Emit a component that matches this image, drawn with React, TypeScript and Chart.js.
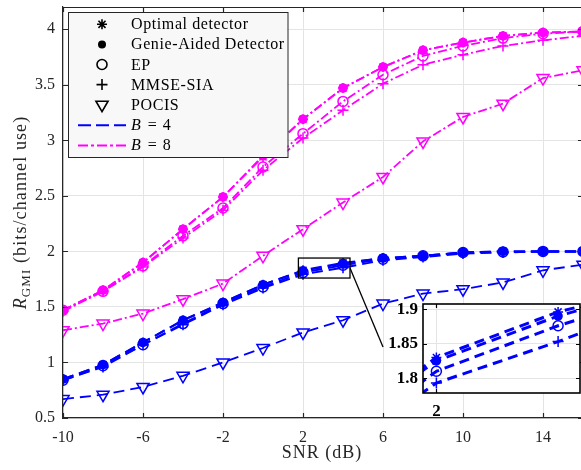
import React, { useEffect, useRef } from "react";
import { Chart, registerables } from "chart.js";

Chart.register(...registerables);

// ---------- data ----------
const snr = [-10, -8, -6, -4, -2, 0, 2, 4, 6, 8, 10, 12, 14, 16];

const optimalB4 = [0.85, 0.98, 1.18, 1.38, 1.54, 1.70, 1.83, 1.896, 1.94, 1.96, 1.99, 2.0, 2.0, 2.0];
const genieB4 = [0.85, 0.98, 1.18, 1.38, 1.54, 1.70, 1.825, 1.89, 1.94, 1.96, 1.99, 2.0, 2.0, 2.0];
const epB4 = [0.84, 0.97, 1.16, 1.35, 1.53, 1.68, 1.81, 1.876, 1.93, 1.96, 1.99, 1.995, 2.0, 2.0];
const mmseB4 = [0.84, 0.96, 1.16, 1.34, 1.52, 1.67, 1.793, 1.853, 1.92, 1.95, 1.98, 1.99, 2.0, 2.0];
const pocisB4 = [0.67, 0.71, 0.78, 0.88, 1.0, 1.13, 1.27, 1.38, 1.53, 1.62, 1.66, 1.72, 1.83, 1.88];

const optimalB8 = [1.47, 1.65, 1.9, 2.2, 2.49, 2.85, 3.19, 3.47, 3.66, 3.81, 3.88, 3.94, 3.97, 3.98];
const genieB8 = [1.47, 1.65, 1.9, 2.2, 2.49, 2.86, 3.19, 3.47, 3.66, 3.81, 3.88, 3.94, 3.97, 3.98];
const epB8 = [1.47, 1.64, 1.87, 2.14, 2.39, 2.76, 3.06, 3.35, 3.59, 3.76, 3.85, 3.92, 3.96, 3.98];
const mmseB8 = [1.46, 1.64, 1.86, 2.12, 2.37, 2.73, 3.02, 3.27, 3.51, 3.68, 3.77, 3.85, 3.9, 3.94];
const pocisB8 = [1.29, 1.35, 1.44, 1.57, 1.71, 1.96, 2.2, 2.44, 2.67, 2.99, 3.21, 3.33, 3.56, 3.63];

const xTicks = [-10, -6, -2, 2, 6, 10, 14];
const yTicks = [0.5, 1, 1.5, 2, 2.5, 3, 3.5, 4];
const xRange = [-10, 16];
const yRange = [0.5, 4.2];

const insetXTicks = [2];
const insetYTicks = [1.8, 1.85, 1.9];
const insetXRange = [1.78, 4.36];
const insetYRange = [1.7785, 1.9075];

const zoomBoxX = [1.77, 4.35];
const zoomBoxY = [1.76, 1.94];
const connectorX = [4.35, 6.0];
const connectorY = [1.85, 1.14];

const legendLabels = ["Optimal detector", "Genie-Aided Detector", "EP", "MMSE-SIA", "POCIS"];

// ---------- styles ----------
const BLUE = "#0000ff";
const MAGENTA = "#ff00ff";
const AXIS = "#262626";
const GRID = "#e4e4e4";
const SERIF = '"Liberation Serif", "Times New Roman", serif';

type Marker = { style: string; fill: boolean; r: number; rot: number };
const markers: Marker[] = [
  { style: "star", fill: false, r: 5, rot: 0 },
  { style: "circle", fill: true, r: 4, rot: 0 },
  { style: "circle", fill: false, r: 5, rot: 0 },
  { style: "cross", fill: false, r: 5.5, rot: 0 },
  { style: "triangle", fill: false, r: 7, rot: 180 },
];

const dashB4 = [11, 6];
const dashB8 = [9, 3, 2, 3];

function makeDs(values: number[], color: string, dash: number[], lw: number, m: Marker, order: number, clip?: number) {
  const ds: any = {
    data: snr.map((x, i) => ({ x, y: values[i] })),
    borderColor: color,
    backgroundColor: m.fill ? color : "rgba(0,0,0,0)",
    borderWidth: lw,
    borderDash: dash,
    pointStyle: m.style,
    pointRotation: m.rot,
    pointRadius: m.r,
    pointHoverRadius: m.r,
    pointBorderWidth: 1.5,
    pointBorderColor: color,
    pointBackgroundColor: m.fill ? color : "rgba(0,0,0,0)",
    tension: 0,
    fill: false,
    order,
  };
  if (clip !== undefined) ds.clip = clip;
  return ds;
}

function drawMarker(ctx: CanvasRenderingContext2D, m: Marker, x: number, y: number, color: string) {
  ctx.save();
  ctx.strokeStyle = color;
  ctx.fillStyle = color;
  ctx.lineWidth = 1.6;
  ctx.setLineDash([]);
  ctx.beginPath();
  const r = m.r;
  if (m.style === "star") {
    for (let k = 0; k < 4; k++) {
      const a = (k * Math.PI) / 4;
      ctx.moveTo(x + Math.cos(a) * r, y + Math.sin(a) * r);
      ctx.lineTo(x - Math.cos(a) * r, y - Math.sin(a) * r);
    }
    ctx.stroke();
  } else if (m.style === "circle") {
    ctx.arc(x, y, r, 0, Math.PI * 2);
    if (m.fill) ctx.fill();
    else ctx.stroke();
  } else if (m.style === "cross") {
    ctx.moveTo(x - r, y);
    ctx.lineTo(x + r, y);
    ctx.moveTo(x, y - r);
    ctx.lineTo(x, y + r);
    ctx.stroke();
  } else if (m.style === "triangle") {
    const s = Math.sin(Math.PI / 3) * r;
    ctx.moveTo(x, y + r);
    ctx.lineTo(x - s, y - r / 2);
    ctx.lineTo(x + s, y - r / 2);
    ctx.closePath();
    ctx.stroke();
  }
  ctx.restore();
}

function drawInwardTicks(chart: any, len: number, color: string, lw: number) {
  const { ctx, chartArea, scales } = chart;
  const { left, right, top, bottom } = chartArea;
  ctx.save();
  ctx.strokeStyle = color;
  ctx.lineWidth = lw;
  ctx.setLineDash([]);
  ctx.beginPath();
  scales.x.ticks.forEach((t: any) => {
    const px = Math.round(scales.x.getPixelForValue(t.value)) + 0.5;
    ctx.moveTo(px, bottom);
    ctx.lineTo(px, bottom - len);
    ctx.moveTo(px, top);
    ctx.lineTo(px, top + len);
  });
  scales.y.ticks.forEach((t: any) => {
    const py = Math.round(scales.y.getPixelForValue(t.value)) + 0.5;
    ctx.moveTo(left, py);
    ctx.lineTo(left + len, py);
    ctx.moveTo(right, py);
    ctx.lineTo(right - len, py);
  });
  ctx.stroke();
  ctx.restore();
}

function drawRich(ctx: CanvasRenderingContext2D, parts: { t: string; font: string; dy: number }[], cx: number, y: number, spacing: string) {
  (ctx as any).letterSpacing = spacing;
  let total = 0;
  const widths = parts.map((p) => {
    ctx.font = p.font;
    const w = ctx.measureText(p.t).width;
    total += w;
    return w;
  });
  let x = cx - total / 2;
  parts.forEach((p, i) => {
    ctx.font = p.font;
    ctx.fillText(p.t, x, y + p.dy);
    x += widths[i];
  });
  (ctx as any).letterSpacing = "0px";
}

function zeroPad(s: any) {
  s.paddingTop = 0;
  s.paddingBottom = 0;
  s.paddingLeft = 0;
  s.paddingRight = 0;
}

const mainDecor = {
  id: "mainDecor",
  afterDraw(chart: any) {
    const { ctx, chartArea, scales } = chart;
    const { left, right, top, bottom } = chartArea;
    const xs = scales.x;
    const ys = scales.y;
    ctx.save();
    // top and right axis lines
    ctx.strokeStyle = AXIS;
    ctx.lineWidth = 1.2;
    ctx.setLineDash([]);
    ctx.beginPath();
    ctx.moveTo(left, top + 0.5);
    ctx.lineTo(right, top + 0.5);
    ctx.moveTo(right - 0.5, top);
    ctx.lineTo(right - 0.5, bottom);
    ctx.stroke();
    drawInwardTicks(chart, 5, AXIS, 1.2);

    // zoom box & connector
    ctx.strokeStyle = "#000";
    ctx.lineWidth = 1.3;
    const bx1 = xs.getPixelForValue(zoomBoxX[0]);
    const bx2 = xs.getPixelForValue(zoomBoxX[1]);
    const by1 = ys.getPixelForValue(zoomBoxY[1]);
    const by2 = ys.getPixelForValue(zoomBoxY[0]);
    ctx.strokeRect(bx1, by1, bx2 - bx1, by2 - by1);
    ctx.beginPath();
    ctx.moveTo(xs.getPixelForValue(connectorX[0]), ys.getPixelForValue(connectorY[0]));
    ctx.lineTo(xs.getPixelForValue(connectorX[1]), ys.getPixelForValue(connectorY[1]));
    ctx.stroke();

    // legend
    const lx = left + 5;
    const ly = top + 5;
    const lw = 219.5;
    const lh = 145;
    ctx.fillStyle = "#f8f8f8";
    ctx.fillRect(lx, ly, lw, lh);
    ctx.strokeStyle = AXIS;
    ctx.lineWidth = 1;
    ctx.strokeRect(lx + 0.5, ly + 0.5, lw, lh);
    const rowY = (i: number) => ly + 12.3 + i * 20.1;
    ctx.textBaseline = "alphabetic";
    ctx.textAlign = "left";
    legendLabels.forEach((lab, i) => {
      drawMarker(ctx, markers[i], lx + 34, rowY(i), "#000");
      ctx.fillStyle = "#000";
      ctx.font = `16px ${SERIF}`;
      (ctx as any).letterSpacing = "0.6px";
      ctx.fillText(lab, lx + 63, rowY(i) + 5);
    });
    // line samples
    const lineRows = [
      { color: BLUE, dash: [13, 5], lab: "4" },
      { color: MAGENTA, dash: [10, 3, 3, 3], lab: "8" },
    ];
    lineRows.forEach((lr, k) => {
      const yy = rowY(5 + k) + 0.5;
      ctx.save();
      ctx.strokeStyle = lr.color;
      ctx.lineWidth = 2;
      ctx.setLineDash(lr.dash);
      ctx.beginPath();
      ctx.moveTo(lx + 10, yy);
      ctx.lineTo(lx + 58, yy);
      ctx.stroke();
      ctx.restore();
      ctx.fillStyle = "#000";
      ctx.textAlign = "left";
      (ctx as any).letterSpacing = "0px";
      ctx.font = `italic 16px ${SERIF}`;
      ctx.fillText("B", lx + 63, rowY(5 + k) + 5);
      const wB = ctx.measureText("B").width;
      ctx.font = `16px ${SERIF}`;
      (ctx as any).letterSpacing = "1px";
      ctx.fillText(" = " + lr.lab, lx + 63 + wB + 2, rowY(5 + k) + 5);
    });
    (ctx as any).letterSpacing = "0px";

    // axis titles
    ctx.fillStyle = "#262626";
    ctx.textAlign = "left";
    drawRich(ctx, [{ t: "SNR (dB)", font: `18px ${SERIF}`, dy: 0 }], (left + right) / 2 - 1, 458, "1px");
    ctx.save();
    ctx.translate(26, (top + bottom) / 2);
    ctx.rotate(-Math.PI / 2);
    drawRich(
      ctx,
      [
        { t: "R", font: `italic 18px ${SERIF}`, dy: 0 },
        { t: "GMI", font: `13px ${SERIF}`, dy: 4 },
        { t: " (bits/channel use)", font: `18px ${SERIF}`, dy: 0 },
      ],
      0,
      0,
      "1.1px"
    );
    ctx.restore();
    ctx.restore();
  },
};

const insetDecor = {
  id: "insetDecor",
  beforeDraw(chart: any) {
    const { ctx, chartArea } = chart;
    ctx.save();
    ctx.fillStyle = "#fff";
    ctx.fillRect(chartArea.left, chartArea.top, chartArea.right - chartArea.left, chartArea.bottom - chartArea.top);
    ctx.restore();
  },
  afterDraw(chart: any) {
    const { ctx, chartArea } = chart;
    drawInwardTicks(chart, 4, "#000", 1.2);
    ctx.save();
    ctx.strokeStyle = "#000";
    ctx.lineWidth = 1.6;
    ctx.setLineDash([]);
    ctx.strokeRect(chartArea.left, chartArea.top, chartArea.right - chartArea.left, chartArea.bottom - chartArea.top);
    ctx.restore();
  },
};

function buildDatasets(inset: boolean) {
  const lw4 = inset ? 3 : 2;
  const lw8 = 1.8;
  const d4 = inset ? [10, 6] : dashB4;
  const clip = inset ? 0 : undefined;
  const list: any[] = [
    makeDs(genieB4, BLUE, d4, lw4, markers[1], 1, clip),
    makeDs(optimalB4, BLUE, d4, lw4, markers[0], 2, clip),
    makeDs(epB4, BLUE, d4, lw4, markers[2], 3, clip),
    makeDs(mmseB4, BLUE, d4, lw4, markers[3], 4, clip),
  ];
  if (!inset) {
    list.push(makeDs(pocisB4, BLUE, dashB4, 1.8, markers[4], 5));
    list.push(makeDs(genieB8, MAGENTA, dashB8, lw8, markers[1], 6));
    list.push(makeDs(optimalB8, MAGENTA, dashB8, lw8, markers[0], 7));
    list.push(makeDs(epB8, MAGENTA, dashB8, lw8, markers[2], 8));
    list.push(makeDs(mmseB8, MAGENTA, dashB8, lw8, markers[3], 9));
    list.push(makeDs(pocisB8, MAGENTA, dashB8, lw8, markers[4], 10));
  }
  return list;
}

export default function App() {
  const mainRef = useRef<HTMLCanvasElement>(null);
  const insetRef = useRef<HTMLCanvasElement>(null);

  useEffect(() => {
    const main = new Chart(mainRef.current as HTMLCanvasElement, {
      type: "line",
      data: { datasets: buildDatasets(false) },
      options: {
        animation: false,
        responsive: false,
        maintainAspectRatio: false,
        devicePixelRatio: 1,
        layout: { autoPadding: false, padding: { top: 7, right: 7, left: 0, bottom: 0 } },
        plugins: { legend: { display: false }, tooltip: { enabled: false } },
        events: [],
        scales: {
          x: {
            type: "linear",
            min: xRange[0],
            max: xRange[1],
            afterBuildTicks: (s: any) => {
              s.ticks = xTicks.map((v) => ({ value: v }));
            },
            afterFit: (s: any) => {
              s.height = 52;
              zeroPad(s);
            },
            ticks: {
              autoSkip: false,
              maxRotation: 0,
              padding: 10,
              color: AXIS,
              font: { family: SERIF, size: 16 },
              callback: (v: any) => String(v),
            },
            grid: { color: GRID, lineWidth: 1, drawTicks: false },
            border: { display: true, color: AXIS, width: 1.2 },
          },
          y: {
            type: "linear",
            min: yRange[0],
            max: yRange[1],
            afterBuildTicks: (s: any) => {
              s.ticks = yTicks.map((v) => ({ value: v }));
            },
            afterFit: (s: any) => {
              s.width = 63;
              zeroPad(s);
            },
            ticks: {
              autoSkip: false,
              padding: 8,
              color: AXIS,
              font: { family: SERIF, size: 16 },
              callback: (v: any) => String(v),
            },
            grid: { color: GRID, lineWidth: 1, drawTicks: false },
            border: { display: true, color: AXIS, width: 1.2 },
          },
        },
      } as any,
      plugins: [mainDecor],
    });

    const inset = new Chart(insetRef.current as HTMLCanvasElement, {
      type: "line",
      data: { datasets: buildDatasets(true) },
      options: {
        animation: false,
        responsive: false,
        maintainAspectRatio: false,
        devicePixelRatio: 1,
        layout: { autoPadding: false, padding: { top: 9, right: 10, left: 0, bottom: 0 } },
        plugins: { legend: { display: false }, tooltip: { enabled: false } },
        events: [],
        scales: {
          x: {
            type: "linear",
            min: insetXRange[0],
            max: insetXRange[1],
            afterBuildTicks: (s: any) => {
              s.ticks = insetXTicks.map((v) => ({ value: v }));
            },
            afterFit: (s: any) => {
              s.height = 32;
              zeroPad(s);
            },
            ticks: {
              autoSkip: false,
              maxRotation: 0,
              padding: 8,
              color: "#000",
              font: { family: SERIF, size: 17, weight: "bold" },
              callback: (v: any) => String(v),
            },
            grid: { color: GRID, lineWidth: 1, drawTicks: false },
            border: { display: false },
          },
          y: {
            type: "linear",
            min: insetYRange[0],
            max: insetYRange[1],
            afterBuildTicks: (s: any) => {
              s.ticks = insetYTicks.map((v) => ({ value: v }));
            },
            afterFit: (s: any) => {
              s.width = 93;
              zeroPad(s);
            },
            ticks: {
              autoSkip: false,
              padding: 5,
              color: "#000",
              font: { family: SERIF, size: 17, weight: "bold" },
              callback: (v: any) => String(v),
            },
            grid: { color: GRID, lineWidth: 1, drawTicks: false },
            border: { display: false },
          },
        },
      } as any,
      plugins: [insetDecor],
    });

    return () => {
      main.destroy();
      inset.destroy();
    };
  }, []);

  return (
    <div style={{ position: "absolute", left: 0, top: 0, width: 581, height: 470, overflow: "hidden", background: "#fff" }}>
      <canvas ref={mainRef} width={590} height={470} style={{ position: "absolute", left: 0, top: 0, width: 590, height: 470 }} />
      <canvas ref={insetRef} width={260} height={130} style={{ position: "absolute", left: 330, top: 295, width: 260, height: 130 }} />
    </div>
  );
}
